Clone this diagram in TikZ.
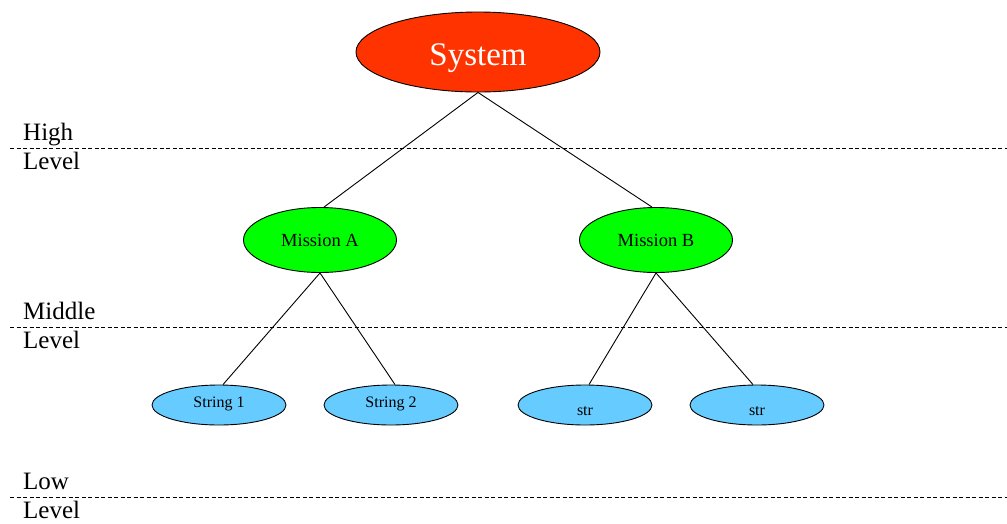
\documentclass[tikz,border=0pt]{standalone}
\usepackage{fontspec}
\setmainfont{Liberation Serif}
\usetikzlibrary{shapes.geometric}
\definecolor{sysred}{HTML}{FF3300}
\definecolor{misgreen}{HTML}{00FF00}
\definecolor{strblue}{HTML}{66CCFF}
\begin{document}
\begin{tikzpicture}[x=1pt,y=-1pt,
  ell/.style={ellipse,draw=black,line width=0.9pt,inner sep=0pt},
  sysnode/.style={ell,fill=sysred,minimum width=244pt,minimum height=80pt,text=white,font=\fontsize{33}{36}\selectfont,text height=26pt,text depth=0pt},
  misnode/.style={ell,fill=misgreen,minimum width=153pt,minimum height=65pt,font=\fontsize{18.5}{20}\selectfont,text height=12pt,text depth=0pt},
  strnode/.style={ell,fill=strblue,minimum width=134pt,minimum height=40pt,font=\fontsize{16}{19}\selectfont,text height=4pt,text depth=0pt},
  strlow/.style={strnode,text height=20pt,text depth=0pt},
  conn/.style={line width=0.9pt},
  sep/.style={line width=0.7pt,dash pattern=on 4pt off 2.5pt},
  lvl/.style={anchor=base west,inner sep=0pt,font=\fontsize{25}{25}\selectfont}
]
\useasboundingbox (0,0) rectangle (1007,523);
\node[sysnode] (sys) at (478,52) {System};
\node[misnode] (ma) at (320,240) {Mission A};
\node[misnode] (mb) at (656,240) {Mission B};
\node[strnode] (s1) at (219,405) {String 1};
\node[strnode] (s2) at (391,405) {String 2};
\node[strlow] (s3) at (585,405) {str};
\node[strlow] (s4) at (757,405) {str};
\draw[conn] (sys.south) -- ([xshift=4pt]ma.north);
\draw[conn] (sys.south) -- ([xshift=-4pt]mb.north);
\draw[conn] (ma.south) -- ([xshift=4pt]s1.north);
\draw[conn] (ma.south) -- ([xshift=4pt]s2.north);
\draw[conn] (mb.south) -- ([xshift=4pt]s3.north);
\draw[conn] (mb.south) -- ([xshift=-4pt]s4.north);
\coordinate (d1a) at (10,148); \coordinate (d1b) at (1007,148);
\coordinate (d2a) at (10,327); \coordinate (d2b) at (1007,327);
\coordinate (d3a) at (10,497); \coordinate (d3b) at (1007,497);
\draw[sep] (d1a) -- (d1b);
\draw[sep] (d2a) -- (d2b);
\draw[sep] (d3a) -- (d3b);
\node[lvl] (h1) at (23,140) {High};
\node[lvl] (h2) at (23,169) {Level};
\node[lvl] (m1) at (23,319) {Middle};
\node[lvl] (m2) at (23,348) {Level};
\node[lvl] (l1) at (23,489) {Low};
\node[lvl] (l2) at (23,518) {Level};
\end{tikzpicture}
\end{document}
